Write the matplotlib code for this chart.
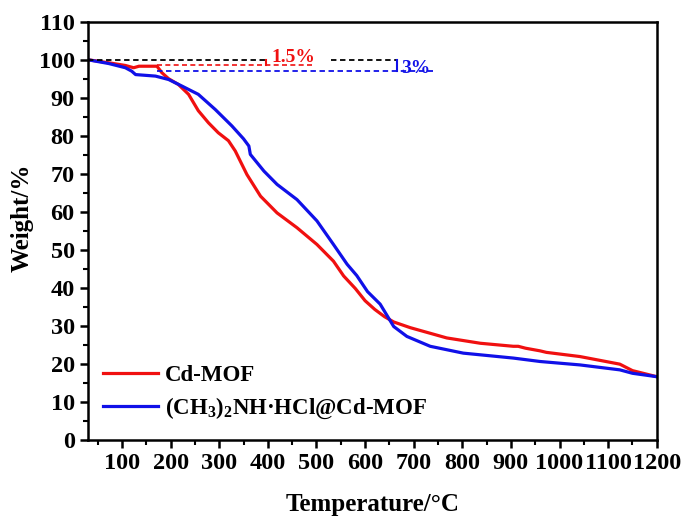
import numpy as np
import matplotlib
matplotlib.use("Agg")
import matplotlib.pyplot as plt
from matplotlib.ticker import MultipleLocator

plt.rcParams['font.family'] = 'Liberation Serif'
plt.rcParams['font.weight'] = 'bold'
plt.rcParams['mathtext.fontset'] = 'custom'
plt.rcParams['mathtext.rm'] = 'Liberation Serif:bold'
plt.rcParams['mathtext.it'] = 'Liberation Serif:bold'
plt.rcParams['mathtext.bf'] = 'Liberation Serif:bold'

# TGA curves (temperature in degC, weight in %)
temp_cd = [30, 73, 107, 124, 135, 172, 182, 196, 216, 237, 257, 278, 298, 319, 333,
           357, 385, 419, 460, 501, 535, 556, 580, 600, 620, 640, 659, 693, 768, 837,
           905, 915, 930, 960, 973, 1042, 1124, 1150, 1200]
weight_cd = [100, 99.2, 98.5, 97.9, 98.3, 98.3, 96.6, 95.0, 93.5, 90.9, 86.6, 83.4, 80.8, 78.7, 76.0,
             69.8, 64.1, 59.7, 55.8, 51.4, 47.0, 43.1, 39.8, 36.6, 34.3, 32.4, 31.0, 29.5, 26.8, 25.4,
             24.6, 24.6, 24.1, 23.4, 23.0, 21.9, 19.9, 18.2, 16.6]

temp_dma = [30, 73, 107, 120, 128, 169, 196, 223, 257, 292, 326, 350, 361, 364, 392,
            419, 460, 501, 535, 563, 583, 605, 631, 659, 686, 734, 802, 905, 960, 1042,
            1124, 1150, 1200]
weight_dma = [100, 99.0, 97.9, 97.0, 96.1, 95.7, 94.8, 93.1, 90.9, 86.9, 82.6, 79.2, 77.3, 75.1, 70.7,
              67.2, 63.2, 57.6, 51.4, 46.2, 43.2, 39.0, 35.7, 29.8, 27.2, 24.6, 22.8, 21.5, 20.6, 19.7,
              18.4, 17.5, 16.6]

labels = ['Cd-MOF', r'(CH$_3$)$_2$NH·HCl@Cd-MOF']
loss_cd = 1.5
loss_dma = 3.0

fig = plt.figure(figsize=(6.87, 5.18), dpi=100)
ax = fig.add_axes([0.128, 0.151, 0.828, 0.807])

ax.plot(temp_cd, weight_cd, color='#f01010', lw=2.3, label=labels[0])
ax.plot(temp_dma, weight_dma, color='#1010e8', lw=2.3, label=labels[1])

# weight-loss guides
dash = (0, (3, 2))
ax.plot([31, 397], [100, 100], ls=dash, color='black', lw=1.3)
ax.plot([529, 666], [100, 100], ls=dash, color='black', lw=1.3)
ax.plot([173, 492], [100 - loss_cd] * 2, ls=dash, color='#f01010', lw=1.2)
ax.plot([173, 740], [100 - loss_dma] * 2, ls=dash, color='#1010e8', lw=1.3)
ax.plot([397, 397], [100, 100 - loss_cd], color='#f01010', lw=1.5)
ax.plot([666, 666], [100, 100 - loss_dma], color='#1010e8', lw=1.5)
ax.text(407, 99.3, f'{loss_cd}%', color='#f01010', fontsize=14, fontweight='bold',
        va='baseline', zorder=5)
ax.text(674, 96.6, f'{loss_dma:.0f}%', color='#1010e8', fontsize=14, fontweight='bold',
        va='baseline', zorder=5)

ax.set_xlim(30, 1200)
ax.set_ylim(0, 110)
ax.xaxis.set_major_locator(MultipleLocator(100))
ax.xaxis.set_minor_locator(MultipleLocator(50))
ax.yaxis.set_major_locator(MultipleLocator(10))
ax.yaxis.set_minor_locator(MultipleLocator(5))
ax.set_xticks(range(100, 1201, 100))
ax.tick_params(which='major', direction='out', length=6, width=1.8, labelsize=17.5)
ax.tick_params(which='minor', direction='out', length=3.5, width=1.5)
for s in ax.spines.values():
    s.set_linewidth(1.8)

ax.set_xlabel('Temperature/°C', fontsize=18, fontweight='bold', labelpad=14)
ax.set_ylabel('Weight/%', fontsize=18, fontweight='bold')
ax.yaxis.set_label_coords(-0.095, 0.53)

ax.legend(loc='lower left', bbox_to_anchor=(-0.009, -0.005), frameon=False, fontsize=16.5,
          handlelength=2.4, handletextpad=0.3, labelspacing=0.45, borderaxespad=0.5)

fig.savefig('out.png', dpi=100)
